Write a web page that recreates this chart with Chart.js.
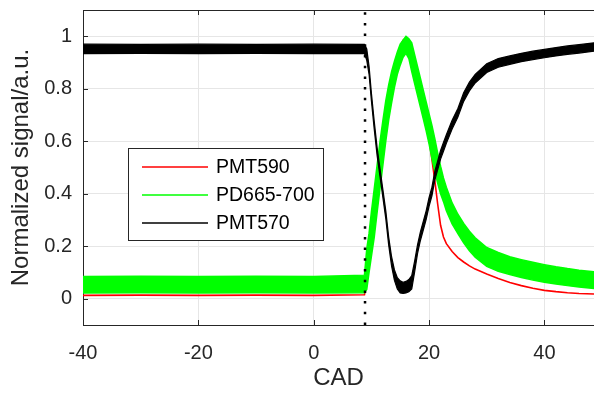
<!DOCTYPE html>
<html>
<head>
<meta charset="utf-8">
<script src="https://cdn.jsdelivr.net/npm/chart.js@4"></script>
<style>
  html, body { margin: 0; padding: 0; background: #fff; }
  #chart { display: block; }
</style>
</head>
<body>
<canvas id="chart" width="594" height="393"></canvas>
<script>
// CAD positions shared by every trace
const cad = [-40, -30, -20, -10, 0, 8.8, 9.2, 9.6, 10, 10.5,
  11, 11.5, 12, 12.5, 13, 13.5, 14, 14.5, 15, 15.5,
  16, 16.5, 17, 17.5, 18, 18.5, 19, 19.5, 20, 20.5,
  21, 21.5, 22, 22.5, 23, 24, 25, 26, 27, 28,
  30, 32, 34, 36, 38, 40, 42, 44, 46, 48.6];

// PMT590 (thin red trace)
const pmt590 = [0.013, 0.014, 0.013, 0.014, 0.013, 0.015, 0.06, 0.13, 0.2, 0.29,
  0.38, 0.47, 0.57, 0.68, 0.77, 0.84, 0.89, 0.93, 0.96, 0.985,
  0.995, 0.985, 0.95, 0.905, 0.83, 0.78, 0.73, 0.675, 0.61, 0.53,
  0.45, 0.36, 0.28, 0.235, 0.21, 0.18, 0.157, 0.14, 0.125, 0.113,
  0.094, 0.077, 0.062, 0.05, 0.04, 0.032, 0.027, 0.023, 0.02, 0.018];

// PD665-700 noise band, upper and lower edge
const pd665Upper = [0.085, 0.086, 0.085, 0.086, 0.085, 0.09, 0.19, 0.25, 0.33, 0.42,
  0.51, 0.6, 0.68, 0.755, 0.815, 0.865, 0.905, 0.94, 0.97, 0.985,
  1.0, 0.99, 0.975, 0.93, 0.885, 0.84, 0.795, 0.75, 0.705, 0.66,
  0.61, 0.555, 0.505, 0.46, 0.425, 0.365, 0.322, 0.287, 0.257, 0.232,
  0.195, 0.176, 0.16, 0.149, 0.139, 0.13, 0.122, 0.115, 0.109, 0.103];
const pd665Lower = [0.022, 0.023, 0.022, 0.023, 0.022, 0.023, 0.035, 0.1, 0.16, 0.235,
  0.33, 0.42, 0.51, 0.6, 0.68, 0.745, 0.805, 0.855, 0.89, 0.92,
  0.935, 0.915, 0.865, 0.82, 0.775, 0.73, 0.685, 0.64, 0.59, 0.535,
  0.485, 0.44, 0.4, 0.37, 0.335, 0.285, 0.248, 0.213, 0.183, 0.158,
  0.123, 0.105, 0.092, 0.081, 0.071, 0.063, 0.056, 0.05, 0.045, 0.039];

// PMT570 noise band, upper and lower edge
const pmt570Upper = [0.97, 0.969, 0.97, 0.969, 0.97, 0.969, 0.952, 0.885, 0.785, 0.675,
  0.575, 0.495, 0.415, 0.335, 0.235, 0.16, 0.11, 0.08, 0.068, 0.063,
  0.066, 0.073, 0.088, 0.143, 0.205, 0.255, 0.295, 0.335, 0.385, 0.425,
  0.485, 0.525, 0.565, 0.595, 0.625, 0.68, 0.725, 0.785, 0.825, 0.855,
  0.895, 0.915, 0.925, 0.935, 0.943, 0.95, 0.957, 0.963, 0.968, 0.975];
const pmt570Lower = [0.934, 0.935, 0.934, 0.935, 0.934, 0.934, 0.908, 0.855, 0.755, 0.645,
  0.545, 0.465, 0.385, 0.305, 0.205, 0.125, 0.07, 0.037, 0.022, 0.02,
  0.022, 0.027, 0.037, 0.102, 0.172, 0.222, 0.262, 0.302, 0.352, 0.392,
  0.452, 0.492, 0.532, 0.562, 0.592, 0.647, 0.692, 0.752, 0.792, 0.822,
  0.862, 0.882, 0.893, 0.903, 0.911, 0.918, 0.925, 0.931, 0.936, 0.943];

const onsetCad = 8.9;
const xTicks = [-40, -20, 0, 20, 40];
const yTicks = [0, 0.2, 0.4, 0.6, 0.8, 1];
const xRange = [-40, 48.6];
const yRange = [-0.1, 1.1];
const seriesNames = ["PMT590", "PD665-700", "PMT570"];
const seriesColors = ["#ff0000", "#00ff00", "#000000"];

const axisColor = "#262626";
const fontFamily = '"Liberation Sans", Arial, sans-serif';

function toPoints(values) {
  return cad.map((x, i) => ({ x, y: values[i] }));
}

const framePlugin = {
  id: "frame",
  afterDraw(chart) {
    const { ctx, chartArea: area, scales } = chart;
    ctx.save();
    ctx.strokeStyle = axisColor;
    ctx.lineWidth = 1;
    ctx.beginPath();
    ctx.moveTo(area.left, area.top + 0.5);
    ctx.lineTo(area.right, area.top + 0.5);
    xTicks.forEach(v => {
      const px = Math.round(scales.x.getPixelForValue(v)) + 0.5;
      ctx.moveTo(px, area.bottom);
      ctx.lineTo(px, area.bottom - 5);
      ctx.moveTo(px, area.top);
      ctx.lineTo(px, area.top + 5);
    });
    yTicks.forEach(v => {
      const py = Math.round(scales.y.getPixelForValue(v)) + 0.5;
      ctx.moveTo(area.left, py);
      ctx.lineTo(area.left + 5, py);
    });
    ctx.stroke();

    // legend box inside the axes
    const box = { left: 128, top: 148, width: 195, height: 92 };
    ctx.fillStyle = "#ffffff";
    ctx.fillRect(box.left, box.top, box.width, box.height);
    ctx.strokeStyle = axisColor;
    ctx.strokeRect(box.left + 0.5, box.top + 0.5, box.width, box.height);
    ctx.font = `19.5px ${fontFamily}`;
    ctx.textBaseline = "middle";
    seriesNames.forEach((name, i) => {
      const rowY = box.top + 19 + i * 28;
      ctx.strokeStyle = seriesColors[i];
      ctx.lineWidth = 1.5;
      ctx.beginPath();
      ctx.moveTo(box.left + 14, rowY);
      ctx.lineTo(box.left + 80, rowY);
      ctx.stroke();
      ctx.fillStyle = "#000000";
      ctx.fillText(name, box.left + 88, rowY + 1);
    });
    ctx.restore();
  }
};

const lineBase = {
  pointRadius: 0,
  tension: 0,
  spanGaps: true
};

new Chart(document.getElementById("chart"), {
  type: "line",
  data: {
    datasets: [
      {
        ...lineBase,
        label: seriesNames[0],
        data: toPoints(pmt590),
        borderColor: seriesColors[0],
        borderWidth: 1.6,
        order: 3
      },
      {
        ...lineBase,
        label: seriesNames[1],
        data: toPoints(pd665Upper),
        borderColor: seriesColors[1],
        borderWidth: 1.5,
        order: 2
      },
      {
        ...lineBase,
        label: seriesNames[1] + " low",
        data: toPoints(pd665Lower),
        borderColor: seriesColors[1],
        backgroundColor: seriesColors[1],
        borderWidth: 1.5,
        fill: "-1",
        order: 2
      },
      {
        ...lineBase,
        label: seriesNames[2],
        data: toPoints(pmt570Upper),
        borderColor: seriesColors[2],
        borderWidth: 1.2,
        order: 1
      },
      {
        ...lineBase,
        label: seriesNames[2] + " low",
        data: toPoints(pmt570Lower),
        borderColor: seriesColors[2],
        backgroundColor: seriesColors[2],
        borderWidth: 1.2,
        fill: "-1",
        order: 1
      },
      {
        ...lineBase,
        label: "onset",
        data: [{ x: onsetCad, y: yRange[0] }, { x: onsetCad, y: yRange[1] }],
        borderColor: "#000000",
        borderWidth: 2.5,
        borderDash: [2.5, 8.2],
        borderCapStyle: "butt",
        order: 0
      }
    ]
  },
  options: {
    responsive: false,
    animation: false,
    devicePixelRatio: 1,
    layout: { padding: { top: 10, right: 0, bottom: 0, left: 0 } },
    plugins: {
      legend: { display: false },
      tooltip: { enabled: false }
    },
    scales: {
      x: {
        type: "linear",
        min: xRange[0],
        max: xRange[1],
        afterBuildTicks: scale => { scale.ticks = xTicks.map(value => ({ value })); },
        afterFit: scale => {
          scale.height = 68;
          scale.paddingLeft = 0;
          scale.paddingRight = 0;
        },
        grid: { color: "#e6e6e6", lineWidth: 1, drawTicks: false },
        border: { display: true, color: axisColor, width: 1 },
        ticks: {
          color: axisColor,
          padding: 16,
          maxRotation: 0,
          font: { family: fontFamily, size: 20 },
          callback: value => String(value)
        },
        title: {
          display: true,
          text: "CAD",
          color: axisColor,
          font: { family: fontFamily, size: 24, lineHeight: 1.2 },
          padding: { top: 0, bottom: 0 }
        }
      },
      y: {
        type: "linear",
        min: yRange[0],
        max: yRange[1],
        afterBuildTicks: scale => { scale.ticks = yTicks.map(value => ({ value })); },
        afterFit: scale => {
          scale.width = 83;
          scale.paddingTop = 0;
          scale.paddingBottom = 0;
        },
        grid: { color: "#e6e6e6", lineWidth: 1, drawTicks: false },
        border: { display: true, color: axisColor, width: 1 },
        ticks: {
          color: axisColor,
          padding: 11,
          font: { family: fontFamily, size: 20 },
          callback: value => String(value)
        },
        title: {
          display: true,
          text: "Normalized signal/a.u.",
          color: axisColor,
          font: { family: fontFamily, size: 24, lineHeight: 1.2 },
          padding: { top: 7, bottom: 0 }
        }
      }
    }
  },
  plugins: [framePlugin]
});
</script>
</body>
</html>
